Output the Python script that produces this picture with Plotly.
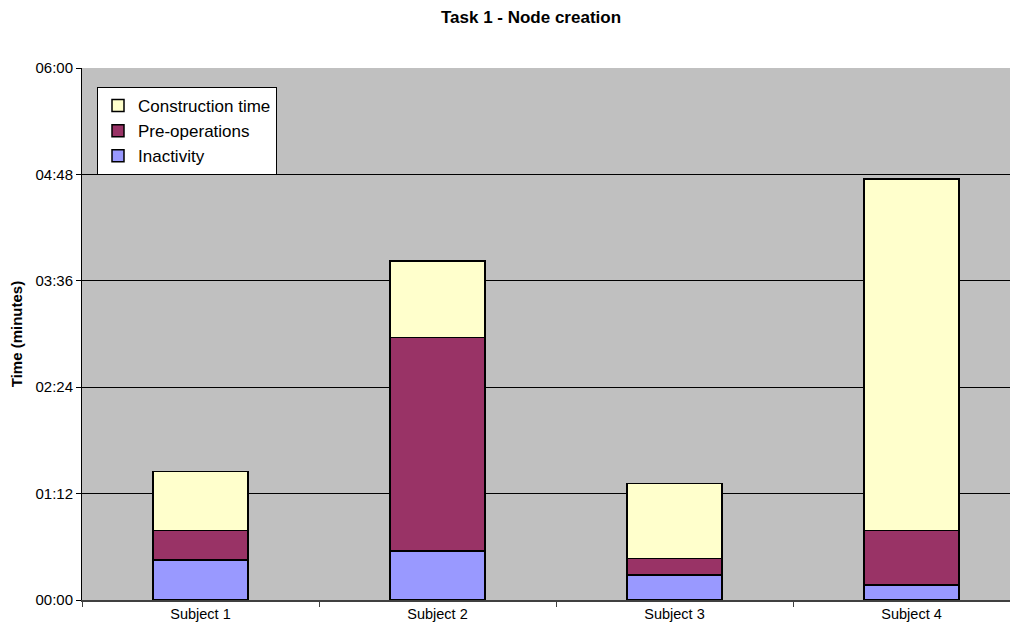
import plotly.graph_objects as go

subjects = ["Subject 1", "Subject 2", "Subject 3", "Subject 4"]
# values in seconds
inactivity = [27, 33, 17, 10]
pre_operations = [20, 144.5, 11, 37]
construction_time = [40, 52, 51, 238]

y_tick_vals = [0, 72, 144, 216, 288, 360]
y_tick_text = ["00:00", "01:12", "02:24", "03:36", "04:48", "06:00"]

FONT = "Liberation Sans, Arial, sans-serif"

# page body has an 8px margin; compensate in margins and size
W, H = 1018, 614
ML, MT, MB = 74, 60, 22
PW, PH = 944, 532

fig = go.Figure()
series = [
    ("Inactivity", inactivity, "#9999FF"),
    ("Pre-operations", pre_operations, "#993366"),
    ("Construction time", construction_time, "#FFFFCC"),
]
for name, vals, col in series:
    fig.add_trace(go.Bar(
        x=subjects, y=vals, name=name,
        marker=dict(color=col, line=dict(color="#000000", width=1.5)),
        width=0.4,
    ))

fig.update_layout(
    width=W, height=H,
    barmode="stack",
    paper_bgcolor="#FFFFFF",
    plot_bgcolor="#C0C0C0",
    margin=dict(l=ML, r=0, t=MT, b=MB),
    font=dict(family=FONT, size=15, color="#000000"),
    title=dict(text="<b>Task 1 - Node creation</b>", x=(531 - 8) / W, xanchor="center",
               y=1, yanchor="top", pad=dict(t=3),
               font=dict(family=FONT, size=17, color="#000000")),
    legend=dict(
        x=(97 - 82) / PW, y=1 - (87 - 68) / PH, xanchor="left", yanchor="top",
        traceorder="reversed",
        bgcolor="#FFFFFF", bordercolor="#000000", borderwidth=1,
        font=dict(family=FONT, size=17, color="#000000"),
        itemwidth=30, tracegroupgap=0,
    ),
    showlegend=True,
)

fig.update_xaxes(
    type="category",
    range=[-0.5, 3.483],
    tickson="boundaries",
    ticks="outside", ticklen=5, tickcolor="#404040",
    showline=True, linecolor="#404040", linewidth=2,
    showgrid=False,
    tickfont=dict(family=FONT, size=14.5, color="#000000"),
)
fig.update_yaxes(
    range=[0, 360],
    tickvals=y_tick_vals, ticktext=y_tick_text,
    ticks="outside", ticklen=5, tickcolor="#000000",
    showline=True, linecolor="#000000", linewidth=1,
    showgrid=True, gridcolor="#000000", gridwidth=1,
    zeroline=False,
    tickfont=dict(family=FONT, size=15, color="#000000"),
    title=dict(text="<b>Time (minutes)</b>", standoff=12,
               font=dict(family=FONT, size=15, color="#000000")),
)

fig.write_html("out.html")
